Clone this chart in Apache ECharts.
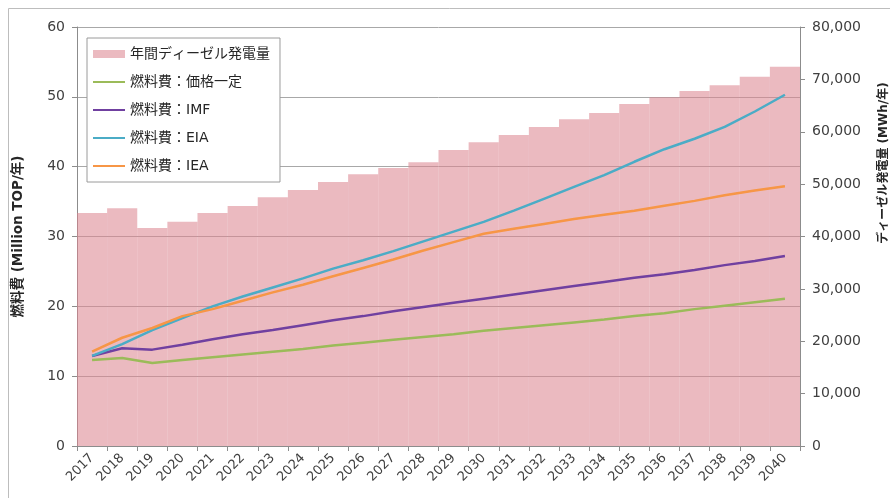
<!DOCTYPE html>
<html><head><meta charset="utf-8">
<script src="https://cdn.jsdelivr.net/npm/echarts@6/dist/echarts.min.js"></script>
<style>html,body{margin:0;padding:0;background:#fff}#c{width:890px;height:498px}</style>
</head><body><div id="c"></div>
<script>
var years = ['2017','2018','2019','2020','2021','2022','2023','2024','2025','2026','2027','2028','2029','2030','2031','2032','2033','2034','2035','2036','2037','2038','2039','2040'];
var diesel = [44500,45400,41600,42800,44500,45800,47500,48900,50400,51900,53100,54200,56500,58000,59400,60900,62400,63600,65300,66600,67800,68900,70500,72400];
var fixedPrice = [12.3,12.6,11.9,12.3,12.7,13.1,13.5,13.9,14.4,14.8,15.2,15.6,16.0,16.5,16.9,17.3,17.7,18.1,18.6,19.0,19.6,20.1,20.6,21.1];
var imf = [12.9,14.0,13.8,14.5,15.3,16.0,16.6,17.3,18.0,18.6,19.3,19.9,20.5,21.1,21.7,22.3,22.9,23.5,24.1,24.6,25.2,25.9,26.5,27.2];
var eia = [12.9,14.6,16.6,18.3,20.0,21.4,22.7,24.0,25.4,26.6,27.9,29.3,30.7,32.1,33.7,35.4,37.1,38.8,40.7,42.5,44.0,45.7,47.9,50.3];
var iea = [13.5,15.5,16.9,18.6,19.6,20.8,22.0,23.1,24.3,25.5,26.7,28.0,29.2,30.4,31.1,31.8,32.5,33.1,33.7,34.4,35.1,35.9,36.6,37.2];
var leftTicks = {min:0, max:60, interval:10};
var rightTicks = {min:0, max:80000, interval:10000};
var names = ['年間ディーゼル発電量','燃料費：価格一定','燃料費：IMF','燃料費：EIA','燃料費：IEA'];

var FONT = '"DejaVu Sans","Noto Sans CJK JP",sans-serif';
var LINE_ICON = 'path://M0,0 M0,3 L32,3 L32,5 L0,5 Z M32,8';
var chart = echarts.init(document.getElementById('c'));
function lineSeries(name, data, color){
  return {name:name, type:'line', yAxisIndex:0, data:data, symbol:'none', smooth:false,
    lineStyle:{color:color, width:2.5}, itemStyle:{color:color}, z:3};
}
chart.setOption({
  animation:false,
  textStyle:{fontFamily:FONT},
  grid:{left:77, right:90, top:27, bottom:52},
  legend:{
    orient:'vertical', left:87, top:38, padding:[8,10,8,6],
    borderColor:'#9a9a9a', borderWidth:1, backgroundColor:'#fff',
    itemWidth:32, itemHeight:8, itemGap:12,
    textStyle:{fontSize:14, color:'#262626', fontFamily:FONT, lineHeight:16},
    data:[
      {name:names[0], icon:'rect'},
      {name:names[1], icon:LINE_ICON},
      {name:names[2], icon:LINE_ICON},
      {name:names[3], icon:LINE_ICON},
      {name:names[4], icon:LINE_ICON}
    ]
  },
  graphic:[
    {type:'rect', shape:{x:8.5, y:8.5, width:1000, height:1000}, style:{fill:'none', stroke:'#bdbdbd', lineWidth:1}, silent:true, z:-1},
    {type:'text', x:884, y:163, rotation:Math.PI/2, style:{text:'ディーゼル発電量 (MWh/年)', fontSize:12, fontWeight:'bold', fill:'#262626', fontFamily:FONT, align:'center', verticalAlign:'middle'}}
  ],
  xAxis:{
    type:'category', data:years, boundaryGap:true,
    axisLine:{lineStyle:{color:'#8c8c8c'}},
    axisTick:{show:true, length:5, lineStyle:{color:'#8c8c8c'}},
    axisLabel:{rotate:45, fontSize:13, color:'#404040', margin:10, interval:0, fontFamily:FONT}
  },
  yAxis:[
    {type:'value', min:leftTicks.min, max:leftTicks.max, interval:leftTicks.interval,
     name:'燃料費 (Million TOP/年)', nameLocation:'middle', nameGap:52,
     nameTextStyle:{fontSize:13.5, fontWeight:'bold', color:'#262626', fontFamily:FONT},
     axisLine:{show:true, lineStyle:{color:'#8c8c8c'}},
     axisTick:{show:true, length:5, lineStyle:{color:'#8c8c8c'}},
     axisLabel:{fontSize:14, color:'#404040', margin:12, fontFamily:FONT},
     splitLine:{show:true, lineStyle:{color:'#a8a8a8', width:1}}},
    {type:'value', min:rightTicks.min, max:rightTicks.max, interval:rightTicks.interval, position:'right',
     axisLine:{show:true, lineStyle:{color:'#8c8c8c'}},
     axisTick:{show:true, length:5, lineStyle:{color:'#8c8c8c'}},
     axisLabel:{fontSize:14, color:'#404040', margin:12, fontFamily:FONT,
       formatter:function(v){return v.toLocaleString('en-US');}},
     splitLine:{show:false}}
  ],
  series:[
    {name:names[0], type:'bar', yAxisIndex:1, data:diesel, barCategoryGap:'0%',
     itemStyle:{color:'rgba(220,132,142,0.56)'}, z:2},
    lineSeries(names[1], fixedPrice, '#9bbb59'),
    lineSeries(names[2], imf, '#7040a0'),
    lineSeries(names[3], eia, '#4bacc6'),
    lineSeries(names[4], iea, '#f79646')
  ]
});
</script></body></html>
